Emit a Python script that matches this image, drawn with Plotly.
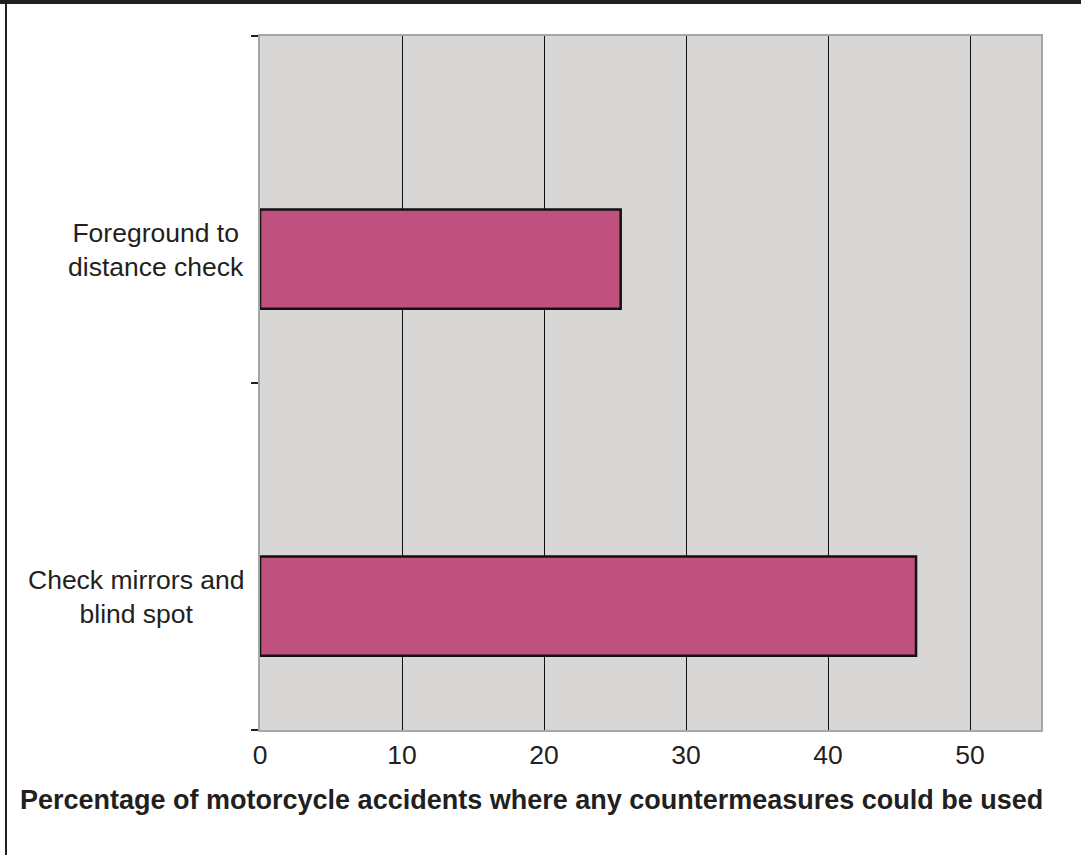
import plotly.graph_objects as go

categories = ["Check mirrors and<br>blind spot", "Foreground to<br>distance check"]
values = [46.2, 25.4]
x_ticks = [0, 10, 20, 30, 40, 50]
x_title = "Percentage of motorcycle accidents where any countermeasures could be used"

TXT = "#231f20"
FONT = "Liberation Sans, Arial, sans-serif"

fig = go.Figure()
fig.add_trace(go.Bar(
    x=values, y=categories, orientation="h",
    width=0.286, offset=-0.286,
    marker=dict(color="#c0507e", line=dict(color="#111111", width=2.5)),
))

# plot-area geometry (pixels)
L, R, T, B = 260, 40, 36, 125
W, H = 1081, 855
pw, ph = W - L - R, H - T - B

def px(x):
    return (x - L) / pw

def py(y):
    return (H - B - y) / ph

annotations = []
for cat in categories:
    annotations.append(dict(
        x=0, xref="paper", y=cat, yref="y", xanchor="right", yanchor="middle",
        xshift=-14, yshift=-40, text=cat, showarrow=False, align="center",
        font=dict(family=FONT, size=26.5, color=TXT),
    ))
annotations.append(dict(
    x=px(531), xref="paper", y=py(800), yref="paper", xanchor="center", yanchor="middle",
    text="<b>" + x_title + "</b>", showarrow=False,
    font=dict(family=FONT, size=27, color=TXT),
))

shapes = [
    dict(type="rect", xref="paper", yref="paper", x0=px(-5), x1=px(W + 5), y0=py(0) + 0.01, y1=py(4),
         fillcolor=TXT, line=dict(width=0), layer="above"),
    dict(type="rect", xref="paper", yref="paper", x0=px(5), x1=px(7), y0=py(0), y1=py(H + 5),
         fillcolor=TXT, line=dict(width=0), layer="above"),
]

fig.update_layout(
    width=W, height=H,
    margin=dict(l=L, r=R, t=T, b=B, pad=0),
    paper_bgcolor="white", plot_bgcolor="#d8d7d5",
    showlegend=False,
    font=dict(family=FONT, size=26.5, color=TXT),
    annotations=annotations, shapes=shapes,
    xaxis=dict(
        range=[0, 55], tickvals=x_ticks, ticktext=[str(t) for t in x_ticks],
        showgrid=True, gridcolor="#111111", gridwidth=1, zeroline=False,
        showline=True, linecolor="#a6a6a6", linewidth=2, mirror=True,
        ticks="", ticklabelstandoff=0,
        tickfont=dict(family=FONT, size=26.5, color=TXT),
    ),
    yaxis=dict(
        type="category", categoryorder="array", categoryarray=categories,
        range=[-0.5, 1.5], tickson="boundaries", ticks="outside", ticklen=7,
        tickcolor=TXT, tickwidth=1.5, showticklabels=False, showgrid=False,
        showline=True, linecolor="#a6a6a6", linewidth=2, mirror=True,
        zeroline=False,
    ),
)

fig.write_html("out.html", config={"displayModeBar": False},
               post_script="document.body.style.margin='0';")
